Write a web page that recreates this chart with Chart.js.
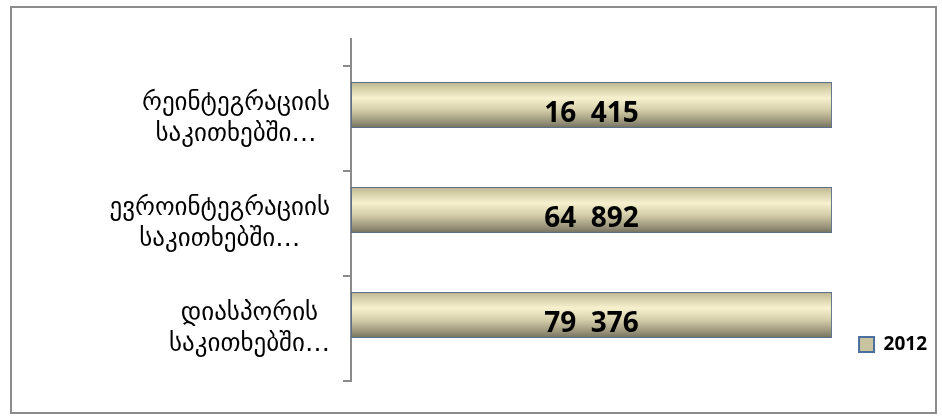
<!DOCTYPE html>
<html>
<head>
<meta charset="utf-8">
<script src="https://cdn.jsdelivr.net/npm/chart.js@4.4.0/dist/chart.umd.min.js"></script>
<style>
  html, body { margin: 0; padding: 0; background: #fff; }
  #wrap { position: relative; width: 942px; height: 416px; }
  #frame { position: absolute; left: 10px; top: 6px; width: 927px; height: 408px; border: 2px solid #8c8c8c; box-sizing: border-box; pointer-events: none; }
  canvas { position: absolute; left: 0; top: 0; }
</style>
</head>
<body>
<div id="wrap">
  <canvas id="chart" width="942" height="416"></canvas>
  <div id="frame"></div>
</div>
<script>
const categories = [
  ["რეინტეგრაციის", "საკითხებში…"],
  ["ევროინტეგრაციის", "საკითხებში…"],
  ["დიასპორის", "საკითხებში…"]
];
const seriesName = "2012";
const values2012 = [16415, 64892, 79376];

// 100% stacked bars: each bar is the series' share of its category total
const allSeries = [values2012];
const totals = categories.map((_, i) => allSeries.reduce((s, arr) => s + arr[i], 0));
const share2012 = values2012.map((v, i) => v / totals[i] * 100);
// the source chart keeps an empty second series slot under each bar
const emptySeries = categories.map(() => null);

const labelFont = "25px 'DejaVu Sans'";
const valueFont = "bold 28px 'Open Sans'";

function fmt(v) {
  return Math.floor(v / 1000) + "  " + String(v % 1000).padStart(3, "0");
}

function barFill(ctx) {
  const el = ctx.element;
  if (!el || !el.height || isNaN(el.y)) return "#ddd6b2";
  const top = el.y - el.height / 2;
  const g = ctx.chart.ctx.createLinearGradient(0, top, 0, top + el.height);
  g.addColorStop(0, "#b9b391");
  g.addColorStop(0.12, "#d2cca6");
  g.addColorStop(0.35, "#f7f1cf");
  g.addColorStop(0.6, "#d6cfab");
  g.addColorStop(0.85, "#9c977c");
  g.addColorStop(1, "#737060");
  return g;
}

const categoryLabels = {
  id: "categoryLabels",
  afterDraw(chart) {
    const c = chart.ctx;
    const y = chart.scales.y;
    const right = chart.chartArea.left - 21;
    c.save();
    c.font = labelFont;
    c.fillStyle = "#000";
    c.textAlign = "center";
    c.textBaseline = "middle";
    categories.forEach((lines, i) => {
      const w = Math.max(...lines.map(l => c.measureText(l).width));
      const cx = right - w / 2;
      const cy = y.getPixelForValue(i);
      const lh = 31;
      lines.forEach((l, k) => {
        c.fillText(l, cx, cy + (k - (lines.length - 1) / 2) * lh);
      });
    });
    c.restore();
  }
};

const valueLabels = {
  id: "valueLabels",
  afterDatasetsDraw(chart) {
    const c = chart.ctx;
    const meta = chart.getDatasetMeta(0);
    c.save();
    c.font = valueFont;
    c.fillStyle = "#000";
    c.textAlign = "center";
    c.textBaseline = "middle";
    meta.data.forEach((bar, i) => {
      c.fillText(fmt(values2012[i]), (bar.base + bar.x) / 2, bar.y + 9);
    });
    c.restore();
  }
};

// axis line in the source runs a little above the first tick
const axisTop = {
  id: "axisTop",
  afterDraw(chart) {
    const c = chart.ctx;
    const a = chart.chartArea;
    c.save();
    c.strokeStyle = "#8a8a8a";
    c.lineWidth = 2;
    c.beginPath();
    c.moveTo(a.left, a.top - 28);
    c.lineTo(a.left, a.top);
    c.stroke();
    c.restore();
  }
};

const chart = new Chart(document.getElementById("chart"), {
  type: "bar",
  plugins: [categoryLabels, valueLabels, axisTop],
  data: {
    labels: categories,
    datasets: [
      {
        label: seriesName,
        data: share2012,
        backgroundColor: barFill,
        borderColor: "#5b6f88",
        borderWidth: 1,
        borderSkipped: false,
        categoryPercentage: 0.514,
        barPercentage: 1.7
      },
      {
        label: "",
        data: emptySeries,
        categoryPercentage: 0.514,
        barPercentage: 1.7
      }
    ]
  },
  options: {
    indexAxis: "y",
    responsive: false,
    animation: false,
    layout: { padding: { top: 66, bottom: 35, left: 0, right: 5 } },
    scales: {
      x: { display: false, min: 0, max: 100 },
      y: {
        ticks: { display: false },
        grid: { drawOnChartArea: false, drawTicks: true, tickLength: 8, color: "#8a8a8a", lineWidth: 2 },
        border: { display: true, color: "#8a8a8a", width: 2 },
        afterFit(scale) { scale.width = 351; }
      }
    },
    plugins: {
      tooltip: { enabled: false },
      legend: {
        position: "right",
        align: "end",
        labels: {
          boxWidth: 15,
          boxHeight: 15,
          color: "#000",
          font: { family: "'Open Sans'", size: 19, weight: "bold" },
          padding: 27,
          generateLabels(ch) {
            return [{
              text: seriesName,
              fillStyle: "#c9c3a0",
              strokeStyle: "#4a6f9e",
              lineWidth: 2,
              datasetIndex: 0,
              fontColor: "#000"
            }];
          }
        }
      }
    }
  }
});
chart.update();
</script>
</body>
</html>
